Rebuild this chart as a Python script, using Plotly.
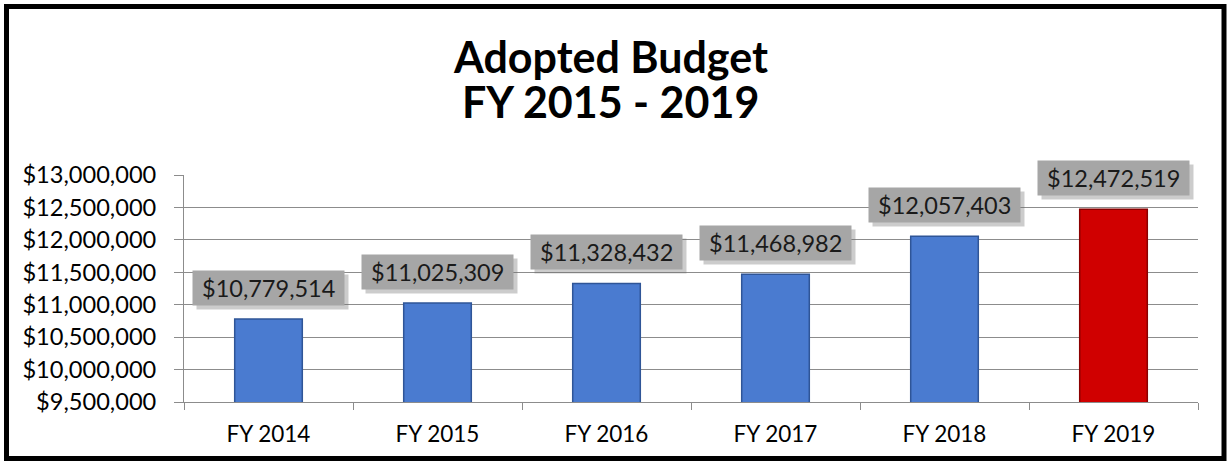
import plotly.graph_objects as go

categories = ["FY 2014", "FY 2015", "FY 2016", "FY 2017", "FY 2018", "FY 2019"]
values = [10779514, 11025309, 11328432, 11468982, 12057403, 12472519]
bar_colors = ["#4A7BD0", "#4A7BD0", "#4A7BD0", "#4A7BD0", "#4A7BD0", "#D00000"]
edge_colors = ["#2F5597", "#2F5597", "#2F5597", "#2F5597", "#2F5597", "#8B0000"]
tick_vals = [9500000, 10000000, 10500000, 11000000, 11500000, 12000000, 12500000, 13000000]
tick_text = ["$9,500,000", "$10,000,000", "$10,500,000", "$11,000,000",
             "$11,500,000", "$12,000,000", "$12,500,000", "$13,000,000"]
title_lines = ["Adopted Budget", "FY 2015 - 2019"]

FONT = "Lato"
W, H = 1230, 467
L, R, T, B = 184, 32, 175, 65
PW, PH = W - L - R, H - T - B

fig = go.Figure()
fig.add_trace(go.Bar(
    x=categories, y=values, base=0,
    marker=dict(color=bar_colors, line=dict(color=edge_colors, width=1.5)),
    width=0.4, hoverinfo="skip",
))

def label(v):
    return "&nbsp;$" + f"{v:,}" + "&nbsp;"

# label shadows
for c, v in zip(categories, values):
    fig.add_annotation(x=c, y=v, text=label(v), showarrow=False,
                       yanchor="bottom", yshift=9, xshift=4,
                       bgcolor="rgba(110,110,110,0.35)", borderpad=3,
                       font=dict(family=FONT, size=23.5, color="rgba(0,0,0,0)"))
for c, v in zip(categories, values):
    fig.add_annotation(x=c, y=v, text=label(v), showarrow=False,
                       yanchor="bottom", yshift=13,
                       bgcolor="#A6A6A6", borderpad=3,
                       font=dict(family=FONT, size=23.5, color="#1a1a1a"))

# title lines (centre in pixels)
for line, cy in zip(title_lines, [56, 101]):
    fig.add_annotation(xref="paper", yref="paper", x=(610 - L) / PW,
                       y=1 + (T - cy) / PH, text="<b>" + line + "</b>", showarrow=False,
                       xanchor="center", yanchor="middle",
                       font=dict(family=FONT, size=43, color="black"))

fig.update_layout(
    width=W, height=H,
    margin=dict(l=L, r=R, t=T, b=B),
    paper_bgcolor="white", plot_bgcolor="white",
    showlegend=False,
    font=dict(family=FONT, color="black"),
    shapes=[dict(type="rect", xref="paper", yref="paper",
                 x0=-(L - 6.5) / PW, x1=1 + (R - 6) / PW,
                 y0=-(B - 8.5) / PH, y1=1 + (T - 6.5) / PH,
                 line=dict(color="black", width=5), layer="above")],
)
fig.update_yaxes(range=[9500000, 13000000], tickvals=tick_vals, ticktext=tick_text,
                 showgrid=True, gridcolor="#8C8C8C", gridwidth=1,
                 showline=True, linecolor="#8C8C8C", linewidth=1,
                 ticks="outside", ticklen=9, tickcolor="#8C8C8C", ticklabelstandoff=13,
                 tickfont=dict(family=FONT, size=23.6, color="black"), zeroline=False)
fig.update_xaxes(showline=True, linecolor="#8C8C8C", linewidth=1,
                 ticks="outside", ticklen=7, tickcolor="#8C8C8C", tickson="boundaries",
                 ticklabelstandoff=12,
                 tickfont=dict(family=FONT, size=22.5, color="black"))

fig.write_html("out.html", config={"displayModeBar": False},
               post_script="document.body.style.margin='0';document.body.style.overflow='hidden';")
